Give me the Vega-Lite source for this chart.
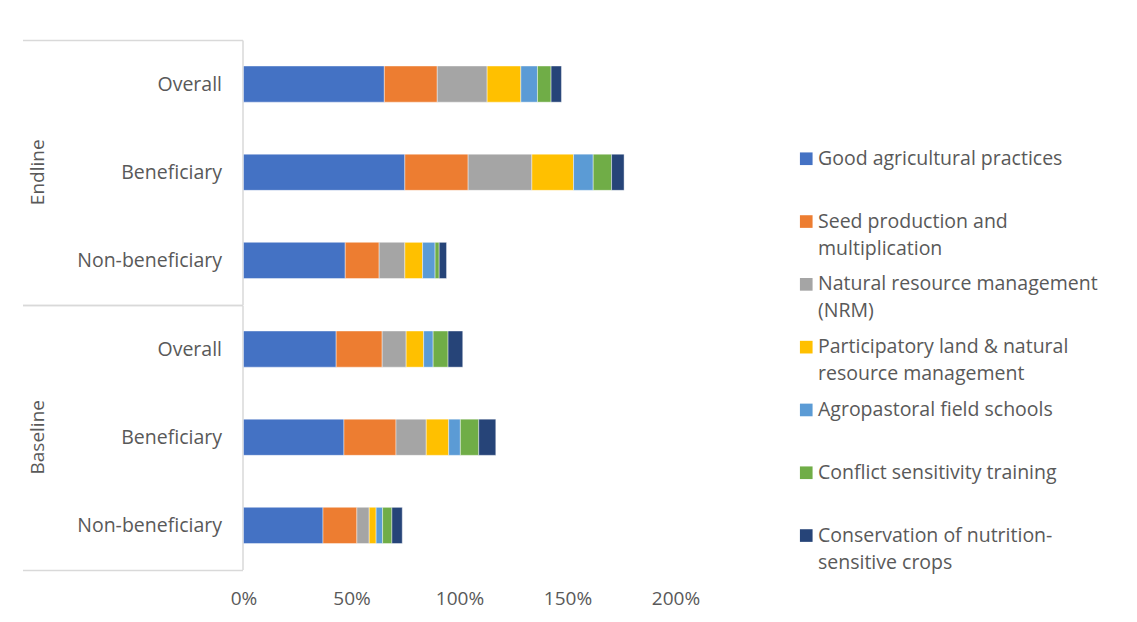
{
  "$schema": "https://vega.github.io/schema/vega-lite/v6.json",
  "background": "white",
  "padding": {"left": 21.5, "top": 30, "right": 0, "bottom": 14},
  "datasets": {
    "activities": [
      {"activity": "Good agricultural practices", "rank": 1},
      {"activity": "Seed production and multiplication", "rank": 2},
      {"activity": "Natural resource management (NRM)", "rank": 3},
      {"activity": "Participatory land & natural resource management", "rank": 4},
      {"activity": "Agropastoral field schools", "rank": 5},
      {"activity": "Conflict sensitivity training", "rank": 6},
      {"activity": "Conservation of nutrition-sensitive crops", "rank": 7}
    ]
  },
  "data": {"values": [
    {"wave": "Endline", "group": "Overall", "activity": "Good agricultural practices", "pct": 65.2},
    {"wave": "Endline", "group": "Overall", "activity": "Seed production and multiplication", "pct": 24.5},
    {"wave": "Endline", "group": "Overall", "activity": "Natural resource management (NRM)", "pct": 23.1},
    {"wave": "Endline", "group": "Overall", "activity": "Participatory land & natural resource management", "pct": 15.6},
    {"wave": "Endline", "group": "Overall", "activity": "Agropastoral field schools", "pct": 7.7},
    {"wave": "Endline", "group": "Overall", "activity": "Conflict sensitivity training", "pct": 6.3},
    {"wave": "Endline", "group": "Overall", "activity": "Conservation of nutrition-sensitive crops", "pct": 4.8},
    {"wave": "Endline", "group": "Beneficiary", "activity": "Good agricultural practices", "pct": 74.7},
    {"wave": "Endline", "group": "Beneficiary", "activity": "Seed production and multiplication", "pct": 29.3},
    {"wave": "Endline", "group": "Beneficiary", "activity": "Natural resource management (NRM)", "pct": 29.5},
    {"wave": "Endline", "group": "Beneficiary", "activity": "Participatory land & natural resource management", "pct": 19.3},
    {"wave": "Endline", "group": "Beneficiary", "activity": "Agropastoral field schools", "pct": 9.1},
    {"wave": "Endline", "group": "Beneficiary", "activity": "Conflict sensitivity training", "pct": 8.5},
    {"wave": "Endline", "group": "Beneficiary", "activity": "Conservation of nutrition-sensitive crops", "pct": 5.8},
    {"wave": "Endline", "group": "Non-beneficiary", "activity": "Good agricultural practices", "pct": 47.1},
    {"wave": "Endline", "group": "Non-beneficiary", "activity": "Seed production and multiplication", "pct": 15.7},
    {"wave": "Endline", "group": "Non-beneficiary", "activity": "Natural resource management (NRM)", "pct": 11.9},
    {"wave": "Endline", "group": "Non-beneficiary", "activity": "Participatory land & natural resource management", "pct": 8.2},
    {"wave": "Endline", "group": "Non-beneficiary", "activity": "Agropastoral field schools", "pct": 5.8},
    {"wave": "Endline", "group": "Non-beneficiary", "activity": "Conflict sensitivity training", "pct": 1.9},
    {"wave": "Endline", "group": "Non-beneficiary", "activity": "Conservation of nutrition-sensitive crops", "pct": 3.4},
    {"wave": "Baseline", "group": "Overall", "activity": "Good agricultural practices", "pct": 42.9},
    {"wave": "Baseline", "group": "Overall", "activity": "Seed production and multiplication", "pct": 21.3},
    {"wave": "Baseline", "group": "Overall", "activity": "Natural resource management (NRM)", "pct": 11.1},
    {"wave": "Baseline", "group": "Overall", "activity": "Participatory land & natural resource management", "pct": 8.1},
    {"wave": "Baseline", "group": "Overall", "activity": "Agropastoral field schools", "pct": 4.4},
    {"wave": "Baseline", "group": "Overall", "activity": "Conflict sensitivity training", "pct": 6.9},
    {"wave": "Baseline", "group": "Overall", "activity": "Conservation of nutrition-sensitive crops", "pct": 6.8},
    {"wave": "Baseline", "group": "Beneficiary", "activity": "Good agricultural practices", "pct": 46.5},
    {"wave": "Baseline", "group": "Beneficiary", "activity": "Seed production and multiplication", "pct": 24.1},
    {"wave": "Baseline", "group": "Beneficiary", "activity": "Natural resource management (NRM)", "pct": 14.0},
    {"wave": "Baseline", "group": "Beneficiary", "activity": "Participatory land & natural resource management", "pct": 10.4},
    {"wave": "Baseline", "group": "Beneficiary", "activity": "Agropastoral field schools", "pct": 5.4},
    {"wave": "Baseline", "group": "Beneficiary", "activity": "Conflict sensitivity training", "pct": 8.5},
    {"wave": "Baseline", "group": "Beneficiary", "activity": "Conservation of nutrition-sensitive crops", "pct": 7.9},
    {"wave": "Baseline", "group": "Non-beneficiary", "activity": "Good agricultural practices", "pct": 36.8},
    {"wave": "Baseline", "group": "Non-beneficiary", "activity": "Seed production and multiplication", "pct": 15.7},
    {"wave": "Baseline", "group": "Non-beneficiary", "activity": "Natural resource management (NRM)", "pct": 5.7},
    {"wave": "Baseline", "group": "Non-beneficiary", "activity": "Participatory land & natural resource management", "pct": 3.2},
    {"wave": "Baseline", "group": "Non-beneficiary", "activity": "Agropastoral field schools", "pct": 3.0},
    {"wave": "Baseline", "group": "Non-beneficiary", "activity": "Conflict sensitivity training", "pct": 4.3},
    {"wave": "Baseline", "group": "Non-beneficiary", "activity": "Conservation of nutrition-sensitive crops", "pct": 4.8}
  ]},
  "transform": [
    {"lookup": "activity", "from": {"data": {"name": "activities"}, "key": "activity", "fields": ["rank"]}}
  ],
  "facet": {
    "row": {
      "field": "wave", "type": "nominal", "sort": ["Endline", "Baseline"], "title": null,
      "header": {"labelAngle": -90, "labelOrient": "left", "labelFont": "Open Sans", "labelFontSize": 19, "labelColor": "#595959", "labelPadding": -35.5}
    }
  },
  "spacing": {"row": 0},
  "spec": {
    "width": 432,
    "height": 264.5,
    "mark": {"type": "bar", "height": {"band": 0.41}, "stroke": "white", "strokeWidth": 0.6, "strokeOpacity": 0.7},
    "encoding": {
      "y": {
        "field": "group", "type": "nominal", "sort": ["Overall", "Beneficiary", "Non-beneficiary"],
        "scale": {"paddingInner": 0, "paddingOuter": 0},
        "axis": {
          "title": null, "tickBand": "extent", "tickSize": 220, "tickColor": "#d9d9d9", "tickWidth": 1.5,
          "tickOpacity": {"condition": {"test": "datum.value == null || datum.value === 'Non-beneficiary'", "value": 1}, "value": 0},
          "domainColor": "#d9d9d9", "domainWidth": 1.5,
          "labelFont": "Open Sans", "labelFontSize": 19.5, "labelColor": "#595959", "labelPadding": -199, "labelLineHeight": 22
        }
      },
      "x": {
        "field": "pct", "type": "quantitative", "stack": "zero",
        "scale": {"domain": [0, 200], "nice": false},
        "axis": {
          "title": null, "values": [0, 50, 100, 150, 200], "labelExpr": "datum.value + '%'",
          "grid": false, "domain": false, "ticks": false, "labelFlush": false,
          "labelFont": "Open Sans", "labelFontSize": 19, "labelColor": "#595959", "labelPadding": 19, "labelLineHeight": 21
        }
      },
      "order": {"field": "rank", "type": "quantitative"},
      "color": {
        "field": "activity", "type": "nominal",
        "scale": {
          "domain": ["Good agricultural practices", "Seed production and multiplication", "Natural resource management (NRM)", "Participatory land & natural resource management", "Agropastoral field schools", "Conflict sensitivity training", "Conservation of nutrition-sensitive crops"],
          "range": ["#4472C4", "#ED7D31", "#A5A5A5", "#FFC000", "#5B9BD5", "#70AD47", "#264478"]
        },
        "legend": {
          "title": null, "orient": "none", "legendX": 553, "legendY": 109,
          "symbolType": "square", "symbolSize": 160, "symbolStrokeWidth": 0,
          "labelFont": "Open Sans", "labelFontSize": 19.5, "labelColor": "#595959", "labelLimit": 400, "labelOffset": 2,
          "rowPadding": 14.8, "gridAlign": "all",
          "labelExpr": "datum.label === 'Seed production and multiplication' ? ['Seed production and', 'multiplication'] : datum.label === 'Natural resource management (NRM)' ? ['Natural resource management', '(NRM)'] : datum.label === 'Participatory land & natural resource management' ? ['Participatory land & natural', 'resource management'] : datum.label === 'Conservation of nutrition-sensitive crops' ? ['Conservation of nutrition-', 'sensitive crops'] : datum.label"
        }
      }
    }
  },
  "config": {"view": {"stroke": null}, "font": "Open Sans", "style": {"guide-label": {"lineHeight": 27}}}
}
